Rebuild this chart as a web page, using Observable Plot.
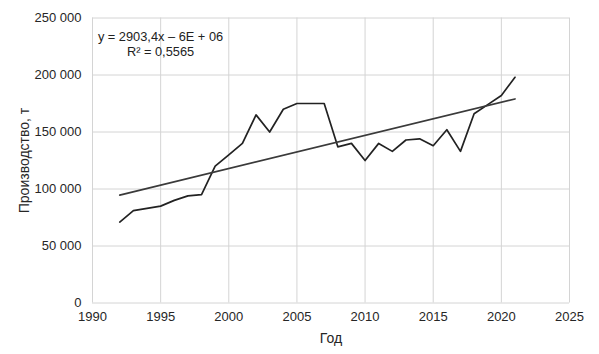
<!DOCTYPE html>
<html>
<head>
<meta charset="utf-8">
<script src="https://cdn.jsdelivr.net/npm/d3@7"></script>
<script src="https://cdn.jsdelivr.net/npm/@observablehq/plot@0.6"></script>
<style>
  html, body { margin: 0; padding: 0; background: #fff; }
  #chart { width: 599px; height: 354px; }
  svg { font-family: "Liberation Sans", Arial, sans-serif; }
</style>
</head>
<body>
<div id="chart"></div>
<script>
const years = [1992,1993,1994,1995,1996,1997,1998,1999,2000,2001,2002,2003,2004,2005,2006,2007,2008,2009,2010,2011,2012,2013,2014,2015,2016,2017,2018,2019,2020,2021];
const production = [71000,81000,83000,85000,90000,94000,95000,120000,130000,140000,165000,150000,170000,175000,175000,175000,137000,140000,125000,140000,133000,143000,144000,138000,152000,133000,166000,174000,182000,198000];
const xTicks = [1990,1995,2000,2005,2010,2015,2020,2025];
const yTicks = [0,50000,100000,150000,200000,250000];
const equationText = ["y = 2903,4x – 6E + 06\nR² = 0,5565"];
const xLabel = "Год";
const yLabel = "Производство, т";

const data = years.map((y, i) => ({year: y, value: production[i]}));
const fmt = d => d3.format(",")(d).replace(/,/g, " ");

const chart = Plot.plot({
  width: 599,
  height: 354,
  marginLeft: 92,
  marginRight: 30,
  marginTop: 17.5,
  marginBottom: 51.5,
  style: {fontFamily: "'Liberation Sans', Arial, sans-serif", fontSize: "13px", color: "#262626", background: "#fff"},
  x: {domain: [1990, 2025], ticks: xTicks, tickFormat: d => String(d), tickSize: 0, tickPadding: 9,
      label: xLabel, labelAnchor: "center", labelOffset: 40, labelArrow: "none"},
  y: {domain: [0, 250000], ticks: yTicks, tickFormat: fmt, tickSize: 0, tickPadding: 11,
      label: yLabel, labelAnchor: "center", labelOffset: 73, labelArrow: "none"},
  marks: [
    Plot.ruleX(xTicks, {stroke: "#d4d4d4", strokeWidth: 1}),
    Plot.ruleY(yTicks, {stroke: "#d4d4d4", strokeWidth: 1}),
    Plot.line(data, {x: "year", y: "value", stroke: "#222", strokeWidth: 1.7}),
    Plot.linearRegressionY(data, {x: "year", y: "value", ci: 0, stroke: "#3a3a3a", strokeWidth: 1.7}),
    Plot.text(equationText, {frameAnchor: "top-left", dx: 68, dy: 13, textAnchor: "middle", lineAnchor: "top",
      lineHeight: 1.15, fontSize: 12.8, fill: "#222"})
  ]
});
chart.querySelectorAll("[aria-label='x-axis label'] text, [aria-label='y-axis label'] text").forEach(t => t.setAttribute("font-size", "14px"));
document.getElementById("chart").appendChild(chart);
</script>
</body>
</html>
